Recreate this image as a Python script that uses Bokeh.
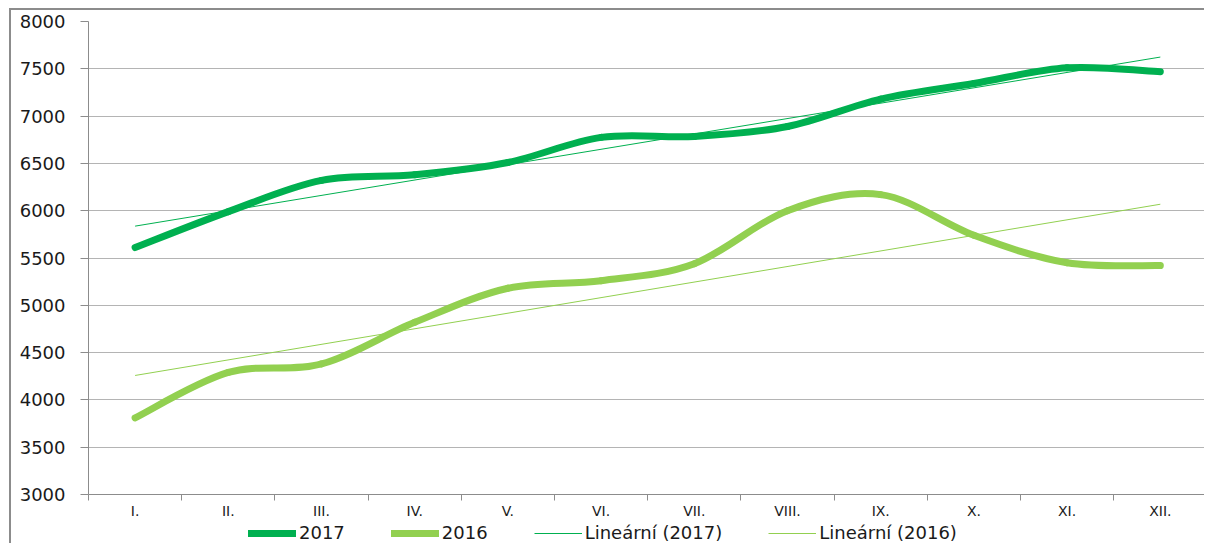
import numpy as np
from bokeh.plotting import figure
from bokeh.layouts import column
from bokeh.models import Range1d, FixedTicker, Legend, LegendItem
from bokeh.embed import file_html
from bokeh.resources import INLINE

# ---- data ----
months = ["I.", "II.", "III.", "IV.", "V.", "VI.", "VII.", "VIII.", "IX.", "X.", "XI.", "XII."]
values_2017 = [5610, 5990, 6320, 6380, 6510, 6775, 6785, 6890, 7180, 7345, 7510, 7470]
values_2016 = [3810, 4290, 4380, 4820, 5180, 5260, 5440, 6000, 6170, 5740, 5450, 5420]
y_ticks = [3000, 3500, 4000, 4500, 5000, 5500, 6000, 6500, 7000, 7500, 8000]
series_labels = ["2017", "2016", "Lineární (2017)", "Lineární (2016)"]

x_pos = list(range(1, len(months) + 1))

C2017 = "#00b050"
C2016 = "#92d050"
FONT = "DejaVu Sans"
TXT = "#1a1a1a"
AXC = "#8c8c8c"


def smooth(xs, ys):
    """Excel-like smoothed line as cubic Bezier segments."""
    n = len(xs)
    out = dict(x0=[], y0=[], x1=[], y1=[], cx0=[], cy0=[], cx1=[], cy1=[])
    for i in range(n - 1):
        pm = i - 1 if i > 0 else i
        pp = i + 2 if i + 2 < n else i + 1
        out["x0"].append(xs[i]); out["y0"].append(ys[i])
        out["x1"].append(xs[i + 1]); out["y1"].append(ys[i + 1])
        out["cx0"].append(xs[i] + (xs[i + 1] - xs[pm]) / 6.0)
        out["cy0"].append(ys[i] + (ys[i + 1] - ys[pm]) / 6.0)
        out["cx1"].append(xs[i + 1] - (xs[pp] - xs[i]) / 6.0)
        out["cy1"].append(ys[i + 1] - (ys[pp] - ys[i]) / 6.0)
    return out


def trend(xs, ys):
    k, b = np.polyfit(xs, ys, 1)
    return [xs[0], xs[-1]], [k * xs[0] + b, k * xs[-1] + b]


p = figure(width=1193, height=512, output_backend="svg", toolbar_location=None,
           x_range=Range1d(0.5, 12.474), y_range=Range1d(3000, 8000),
           min_border_left=77, min_border_right=0, min_border_top=11, min_border_bottom=28)
p.outline_line_color = None
p.background_fill_color = "white"
p.border_fill_color = "white"

# y axis
p.yaxis.ticker = FixedTicker(ticks=y_ticks)
p.yaxis.axis_line_color = AXC
p.yaxis.major_tick_line_color = AXC
p.yaxis.major_tick_out = 8
p.yaxis.major_tick_in = 0
p.yaxis.minor_tick_line_color = None
p.yaxis.major_label_standoff = 15
p.yaxis.major_label_text_font = FONT
p.yaxis.major_label_text_font_size = "18px"
p.yaxis.major_label_text_color = TXT
p.ygrid.ticker = FixedTicker(ticks=y_ticks)
p.ygrid.grid_line_color = "#b4b4b4"
p.ygrid.grid_line_width = 1
p.xgrid.grid_line_color = None

# x axis
p.xaxis.ticker = FixedTicker(ticks=x_pos, minor_ticks=[x - 0.5 for x in x_pos] + [x_pos[-1] + 0.5])
p.xaxis.major_label_overrides = {x: m for x, m in zip(x_pos, months)}
p.xaxis.axis_line_color = AXC
p.xaxis.major_tick_line_color = None
p.xaxis.major_tick_out = 0
p.xaxis.major_tick_in = 0
p.xaxis.minor_tick_line_color = AXC
p.xaxis.minor_tick_out = 6
p.xaxis.minor_tick_in = 0
p.xaxis.major_label_standoff = 2
p.xaxis.major_label_text_font = FONT
p.xaxis.major_label_text_font_size = "14px"
p.xaxis.major_label_text_color = TXT

# series
p.bezier(source=smooth(x_pos, values_2017), x0="x0", y0="y0", x1="x1", y1="y1",
         cx0="cx0", cy0="cy0", cx1="cx1", cy1="cy1",
         line_color=C2017, line_width=7, line_cap="round")
p.bezier(source=smooth(x_pos, values_2016), x0="x0", y0="y0", x1="x1", y1="y1",
         cx0="cx0", cy0="cy0", cx1="cx1", cy1="cy1",
         line_color=C2016, line_width=7, line_cap="round")
tx, ty = trend(x_pos, values_2017)
p.line(tx, ty, line_color=C2017, line_width=1)
tx, ty = trend(x_pos, values_2016)
p.line(tx, ty, line_color=C2016, line_width=1)

# ---- legend strip below the chart ----
lf = figure(width=1193, height=21, output_backend="svg", toolbar_location=None,
            x_range=Range1d(0, 1), y_range=Range1d(0, 1), min_border=0)
lf.axis.visible = False
lf.grid.visible = False
lf.outline_line_color = None
lf.background_fill_color = "white"
lf.border_fill_color = "white"

# legend key renderers (their data lies outside this strip's ranges, only the keys show)
k17 = lf.line(x_pos, values_2017, line_color=C2017, line_width=7, line_cap="round")
k16 = lf.line(x_pos, values_2016, line_color=C2016, line_width=7, line_cap="round")
k17t = lf.line(x_pos, values_2017, line_color=C2017, line_width=1)
k16t = lf.line(x_pos, values_2016, line_color=C2016, line_width=1)

legend = Legend(items=[LegendItem(label=series_labels[0], renderers=[k17]),
                       LegendItem(label=series_labels[1], renderers=[k16]),
                       LegendItem(label=series_labels[2], renderers=[k17t]),
                       LegendItem(label=series_labels[3], renderers=[k16t])],
                orientation="horizontal", location=(160, 0), padding=0, margin=0,
                spacing=46, glyph_width=48, glyph_height=16, label_height=16,
                label_standoff=3, label_text_font=FONT, label_text_font_size="18px",
                label_text_color=TXT, border_line_color=None, background_fill_alpha=0)
lf.add_layout(legend)

layout = column(p, lf, spacing=0,
                styles={"margin-left": "9px", "margin-top": "8px",
                        "border-left": "2px solid #8c8c8c", "border-top": "2px solid #8c8c8c"})

open("out.html", "w").write(file_html(layout, INLINE))
